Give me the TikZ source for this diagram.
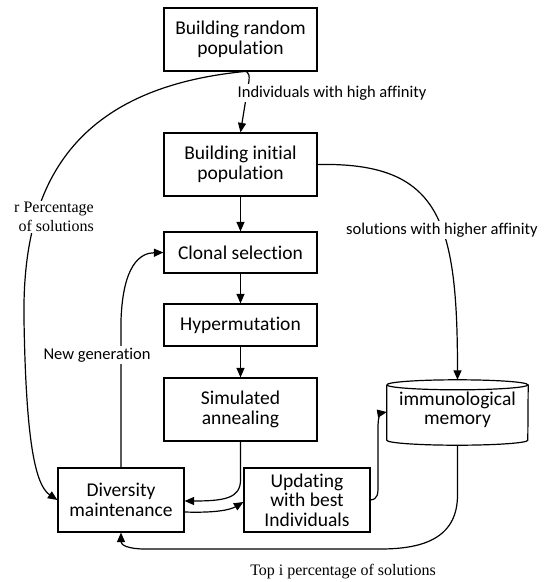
\documentclass[tikz,border=0pt]{standalone}
\usepackage{fontspec}
\setmainfont{Carlito}[Ligatures=NoCommon]
\newfontfamily\serifface{Liberation Serif}
\usetikzlibrary{arrows.meta,calc}
\tikzset{
  procbox/.style={draw, line width=1.2pt, inner sep=0pt, align=center, font=\fontsize{19.5}{19.5}\selectfont},
  arr/.style={line width=1.2pt, -{Triangle[length=9.5pt,width=8pt]}},
  lbl/.style={fill=white, inner sep=1.5pt, font=\fontsize{16.5}{17}\selectfont},
  slbl/.style={fill=white, inner sep=1.5pt, align=right, font=\serifface\fontsize{16}{19}\selectfont},
}
\begin{document}
\begin{tikzpicture}[x=1pt,y=-1pt]
\useasboundingbox (0,0) rectangle (545,582);
\node[procbox, minimum width=153pt, minimum height=63pt] (b1) at (240.5,39.5) {Building random\\population};
\node[procbox, minimum width=153pt, minimum height=63pt] (b2) at (240.5,164.5) {Building initial\\population};
\node[procbox, minimum width=153pt, minimum height=41pt] (b3) at (240.5,252.5) {Clonal selection};
\node[procbox, minimum width=153pt, minimum height=42pt] (b4) at (240.5,325) {Hypermutation};
\node[procbox, minimum width=153pt, minimum height=63pt] (b5) at (240.5,409.5) {Simulated\\annealing};
\node[procbox, minimum width=126pt, minimum height=64pt] (div) at (121,500) {Diversity\\maintenance};
\node[procbox, minimum width=126pt, minimum height=64pt] (upd) at (307,500) {Updating\\with best\\Individuals};
% cylinder (memory)
\node[inner sep=0pt, minimum width=141pt, minimum height=66pt, align=center, font=\fontsize{19.5}{19.5}\selectfont] (mem) at (457.5,410) {immunological\\memory};
\draw[line width=1.2pt] ($(mem.north west)+(0,8)$) arc[start angle=180, end angle=-180, x radius=70.5, y radius=-5];
\draw[line width=1.2pt] ($(mem.north west)+(0,8)$) -- ($(mem.south west)+(0,-3)$)
  arc[start angle=180, end angle=360, x radius=70.5, y radius=-5] -- ($(mem.north east)+(0,8)$);

% connectors
\draw[line width=1.2pt] ([xshift=3pt]b1.south) .. controls (60,90) and (22,200) .. (24,320);
\draw[arr] (24,320) .. controls (26,440) and (35,485) .. (div.west);
\draw[arr] ([xshift=3pt]b1.south) .. controls (250,70) and (250,78) .. (248,86) -- (b2.north);
\draw[arr] (b2.east) .. controls (440,162) and (457.5,220) .. ($(mem.north)+(0,3)$);
\draw[arr] (b2.south) -- (b3.north);
\draw[arr] (b3.south) -- (b4.north);
\draw[arr] (b4.south) -- (b5.north);
\draw[arr] (b5.south) -- (240.5,480) .. controls (240.5,498) and (225,501) .. ($(div.east)+(0,1)$);
\draw[arr] ($(div.east)+(0,12)$) .. controls (215,513) and (230,510) .. ($(upd.west)+(0,2)$);
\draw[arr] (upd.east) .. controls (378,499) and (378,494) .. (378,485) -- (378,425) .. controls (378,418) and (381,413) .. ($(mem.west)+(0,2)$);
\draw[arr] ($(mem.south)+(0,2)$) -- (457.5,495) .. controls (457.5,540) and (420,549) .. (380,549) -- (145,549) .. controls (128,549) and (121,545) .. (div.south);
\draw[arr] (div.north) -- (121,320) .. controls (123,265) and (140,253) .. (b3.west);

% labels
\node[lbl, anchor=west] (l1) at (236,93) {Individuals with high affinity};
\node[lbl] (l2) at (442,230) {solutions with higher affinity};
\node[lbl] (l3) at (97,355) {New generation};
\node[slbl] (l4) at (54,217) {r Percentage\\of solutions};
\node[font=\serifface\fontsize{16}{19}\selectfont] (l5) at (343,572) {Top i percentage of solutions};
\end{tikzpicture}
\end{document}
